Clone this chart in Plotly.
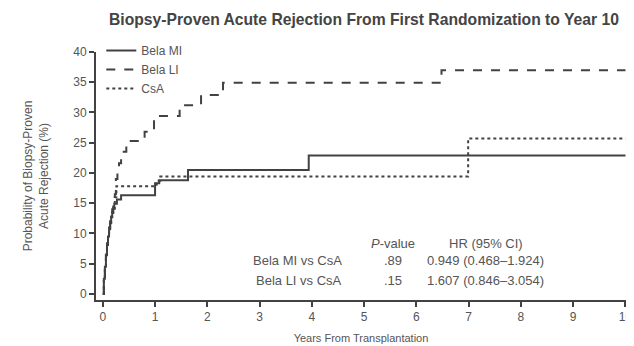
import plotly.graph_objects as go

# Kaplan-Meier style cumulative incidence
bela_mi_t = [0, 0.02, 0.04, 0.06, 0.08, 0.10, 0.12, 0.14, 0.16, 0.18, 0.20, 0.22, 0.27, 0.35, 1.0, 1.08, 1.63, 3.94, 10]
bela_mi_v = [0, 2.5, 4.5, 6.5, 8.2, 9.5, 10.8, 11.8, 12.8, 13.5, 14.2, 14.9, 15.6, 16.3, 18.3, 18.8, 20.5, 22.9, 22.9]

bela_li_t = [0, 0.02, 0.04, 0.06, 0.08, 0.10, 0.12, 0.14, 0.16, 0.18, 0.20, 0.23, 0.25, 0.28, 0.31, 0.35, 0.40, 0.45, 0.80, 0.98, 1.47, 1.88, 2.30, 6.48, 10]
bela_li_v = [0, 2.5, 4.5, 6.5, 8.4, 9.8, 11.0, 12.2, 13.2, 14.0, 14.8, 16.5, 19.0, 20.8, 21.6, 22.5, 23.5, 25.3, 26.8, 29.4, 31.2, 32.9, 34.9, 37.0, 37.0]

csa_t = [0, 0.02, 0.04, 0.06, 0.08, 0.10, 0.12, 0.14, 0.16, 0.18, 0.20, 0.23, 0.26, 1.03, 1.10, 6.99, 10]
csa_v = [0, 2.4, 4.4, 6.4, 8.1, 9.4, 10.7, 11.7, 12.7, 13.4, 14.1, 16.0, 17.8, 18.7, 19.4, 25.7, 25.7]

series_names = ["Bela MI", "Bela LI", "CsA"]
series_dash = ["solid", "dash", "dot"]

x_ticks = [0, 1, 2, 3, 4, 5, 6, 7, 8, 9, 10]
y_ticks = [0, 5, 10, 15, 20, 25, 30, 35, 40]

table_header = ["<i>P</i>-value", "HR (95% CI)"]
table_rows = ["Bela MI vs CsA", "Bela LI vs CsA"]
table_p = [".89", ".15"]
table_hr = ["0.949 (0.468\u20131.924)", "1.607 (0.846\u20133.054)"]

LINE = "#424242"
TXT = "#555555"
FONT = "Liberation Sans, Arial, sans-serif"

fig = go.Figure()
for name, t, v, dash in zip(series_names, [bela_mi_t, bela_li_t, csa_t],
                            [bela_mi_v, bela_li_v, csa_v], series_dash):
    fig.add_trace(go.Scatter(x=t, y=v, mode="lines", name=name,
                             line=dict(color=LINE, width=2, dash=dash, shape="hv")))

# Table annotations
ann = []
x_p, x_hr, x_lbl = 5.56, 7.33, 4.62
y_head, y_rows = 8.4, [5.5, 2.3]
ann.append(dict(x=x_p, y=y_head, text=table_header[0], xanchor="center"))
ann.append(dict(x=x_hr, y=y_head, text=table_header[1], xanchor="center"))
for r, p, hr, yy in zip(table_rows, table_p, table_hr, y_rows):
    ann.append(dict(x=x_lbl, y=yy, text=r, xanchor="right"))
    ann.append(dict(x=x_p, y=yy, text=p, xanchor="center"))
    ann.append(dict(x=x_hr, y=yy, text=hr, xanchor="center"))
for a in ann:
    a.update(xref="x", yref="y", showarrow=False, yanchor="middle",
             font=dict(size=13, color=TXT, family=FONT))

fig.update_layout(
    width=634, height=346,
    margin=dict(l=88, r=16, t=44, b=54, autoexpand=False),
    paper_bgcolor="white", plot_bgcolor="white",
    title=dict(text="<b>Biopsy-Proven Acute Rejection From First Randomization to Year 10</b>",
               x=0.5615, xanchor="center", y=0.968, yanchor="middle",
               font=dict(size=15.7, color="#444444", family=FONT)),
    font=dict(family=FONT, color=TXT, size=12),
    showlegend=True,
    legend=dict(x=0.01, y=1.065, xanchor="left", yanchor="top",
                bgcolor="rgba(0,0,0,0)", font=dict(size=12, color=TXT),
                tracegroupgap=0, itemwidth=30),
    annotations=ann,
)
fig.update_xaxes(range=[-0.13, 10.01], tickmode="array", tickvals=x_ticks,
                 showgrid=False, zeroline=False, showline=True, linecolor=LINE, linewidth=2,
                 ticks="outside", ticklen=5, tickwidth=2, tickcolor=LINE,
                 tickfont=dict(size=12, color=TXT), ticklabeloverflow="allow",
                 title=dict(text="Years From Transplantation", standoff=11,
                            font=dict(size=11, color=TXT)))
fig.update_yaxes(range=[-1, 40], tickmode="array", tickvals=y_ticks,
                 showgrid=False, zeroline=False, showline=True, linecolor=LINE, linewidth=2,
                 ticks="outside", ticklen=5, tickwidth=2, tickcolor=LINE,
                 tickfont=dict(size=12, color=TXT),
                 title=dict(text="Probability of Biopsy-Proven<br>Acute Rejection (%)", standoff=22,
                            font=dict(size=12, color=TXT)))

fig.write_html("out.html",
               post_script="document.documentElement.style.overflow='hidden';"
                           "document.body.style.overflow='hidden';")
